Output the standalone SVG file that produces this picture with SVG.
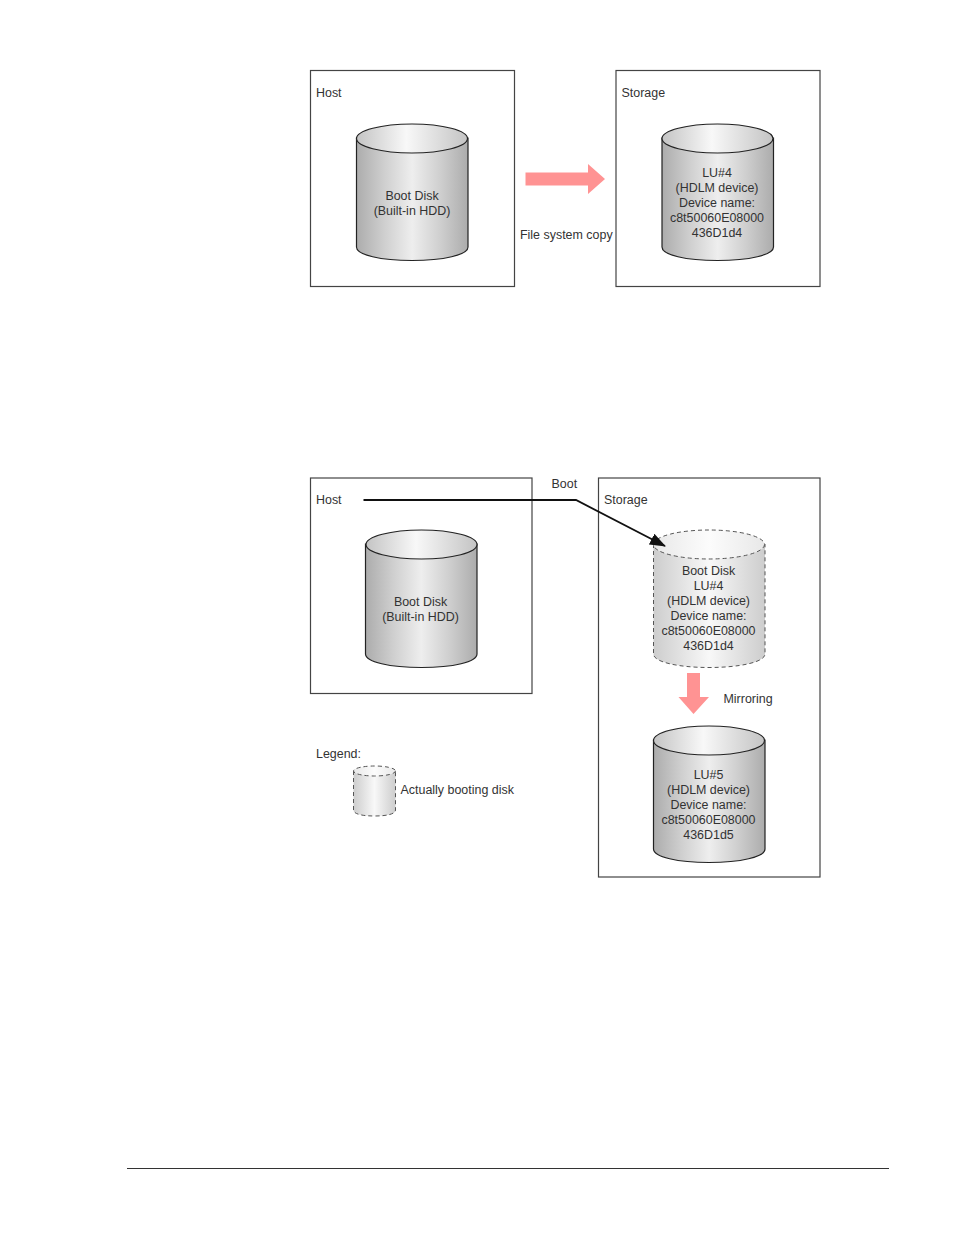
<svg xmlns="http://www.w3.org/2000/svg" width="954" height="1235" viewBox="0 0 954 1235">
<style>
text{font-family:"Liberation Sans",Arial,sans-serif;font-size:12.45px;fill:#333}
.m{text-anchor:middle}
.box{fill:#fff;stroke:#444;stroke-width:1.2}
.solid{stroke:#222;stroke-width:1.2;fill:url(#body)}
.solidtop{stroke:#222;stroke-width:1.2;fill:url(#top)}
.dash{stroke:#555;stroke-width:1;stroke-dasharray:4 3;fill:url(#lbody)}
.dashtop{stroke:#555;stroke-width:1;stroke-dasharray:4 3;fill:url(#ltop)}
.pink{fill:#ff9393}
</style>
<defs>
<linearGradient id="body" x1="0" x2="1" y1="0" y2="0"><stop offset="0" stop-color="#acacac"/><stop offset=".25" stop-color="#cfcfcf"/><stop offset=".5" stop-color="#eeeeee"/><stop offset=".75" stop-color="#cfcfcf"/><stop offset="1" stop-color="#acacac"/></linearGradient>
<linearGradient id="top" x1="0" x2="1" y1="0" y2="0"><stop offset="0" stop-color="#c4c4c4"/><stop offset=".45" stop-color="#f8f8f8"/><stop offset="1" stop-color="#c4c4c4"/></linearGradient>
<linearGradient id="lbody" x1="0" x2="1" y1="0" y2="0"><stop offset="0" stop-color="#cdcdcd"/><stop offset=".5" stop-color="#f8f8f8"/><stop offset="1" stop-color="#cdcdcd"/></linearGradient>
<linearGradient id="ltop" x1="0" x2="1" y1="0" y2="0"><stop offset="0" stop-color="#e8e8e8"/><stop offset=".5" stop-color="#fcfcfc"/><stop offset="1" stop-color="#e8e8e8"/></linearGradient>
<marker id="ah" markerUnits="userSpaceOnUse" markerWidth="16" markerHeight="12" refX="15" refY="6" orient="auto"><path d="M0 0L16 6L0 12z" fill="#111"/></marker>
</defs>
<rect width="954" height="1235" fill="#fff"/>

<g id="host-1"><rect class="box" x="310.500" y="70.500" width="204" height="216"/><text x="316" y="97">Host</text></g>
<g id="storage-1"><rect class="box" x="616" y="70.500" width="204" height="216"/><text x="621.500" y="97">Storage</text></g>
<g id="disk-1"><path class="solid" d="M356.500 138V247C356.500 255 381 260.500 412 260.500S468 255 468 247V138z"/><ellipse class="solidtop" cx="412" cy="138.500" rx="55.500" ry="14.500"/><text class="m" x="412" y="200">Boot Disk</text><text class="m" x="412" y="215">(Built-in HDD)</text></g>
<g id="disk-2"><path class="solid" d="M662 138V247C662 255 686 260.500 717.500 260.500S773.500 255 773.500 247V138z"/><ellipse class="solidtop" cx="717.500" cy="138.500" rx="55.500" ry="14.500"/><text class="m" x="717" y="177">LU#4</text><text class="m" x="717" y="192">(HDLM device)</text><text class="m" x="717" y="207">Device name:</text><text class="m" x="717" y="222">c8t50060E08000</text><text class="m" x="717" y="237">436D1d4</text></g>
<g id="copy-arrow"><path class="pink" d="M525.500 172.500H588V164L605 179L588 194V185.500H525.500z"/><text x="520" y="239">File system copy</text></g>

<g id="host-2"><rect class="box" x="310.500" y="478" width="221.500" height="215.500"/><text x="316" y="503.500">Host</text></g>
<g id="storage-2"><rect class="box" x="598.500" y="478" width="221.500" height="399"/><text x="604" y="503.500">Storage</text></g>
<g id="disk-3"><path class="solid" d="M365.500 544V654C365.500 662 390 667.500 421.500 667.500S477 662 477 654V544z"/><ellipse class="solidtop" cx="421.500" cy="544.500" rx="55.500" ry="14.500"/><text class="m" x="420.500" y="606">Boot Disk</text><text class="m" x="420.500" y="621">(Built-in HDD)</text></g>
<g id="disk-4"><path class="dash" d="M653.500 544V654C653.500 662 678 667.500 709 667.500S765 662 765 654V544z"/><ellipse class="dashtop" cx="709" cy="544.500" rx="55.500" ry="14.500"/><text class="m" x="708.500" y="575">Boot Disk</text><text class="m" x="708.500" y="590">LU#4</text><text class="m" x="708.500" y="605">(HDLM device)</text><text class="m" x="708.500" y="620">Device name:</text><text class="m" x="708.500" y="635">c8t50060E08000</text><text class="m" x="708.500" y="650">436D1d4</text></g>
<g id="disk-5"><path class="solid" d="M653.500 740V849C653.500 857 678 862.500 709 862.500S765 857 765 849V740z"/><ellipse class="solidtop" cx="709" cy="740.500" rx="55.500" ry="14.500"/><text class="m" x="708.500" y="779">LU#5</text><text class="m" x="708.500" y="794">(HDLM device)</text><text class="m" x="708.500" y="809">Device name:</text><text class="m" x="708.500" y="824">c8t50060E08000</text><text class="m" x="708.500" y="839">436D1d5</text></g>
<g id="mirror-arrow"><path class="pink" d="M687 673H700V697H709L693.500 714L678.500 697H687z"/><text x="723.500" y="703">Mirroring</text></g>
<g id="legend"><text x="316" y="757.500">Legend:</text><path class="dash" d="M353.500 771V810C353.500 814 362 816 374.500 816S395.500 814 395.500 810V771z"/><ellipse class="dashtop" cx="374.500" cy="771" rx="21" ry="5"/><text x="400.500" y="794">Actually booting disk</text></g>
<g id="connectors"><path d="M363.500 500H576L665 546" fill="none" stroke="#111" stroke-width="1.800" marker-end="url(#ah)"/><text x="551.500" y="488">Boot</text></g>
<g id="footer"><path d="M127 1168.500H889" stroke="#333" stroke-width="1"/></g>
</svg>
